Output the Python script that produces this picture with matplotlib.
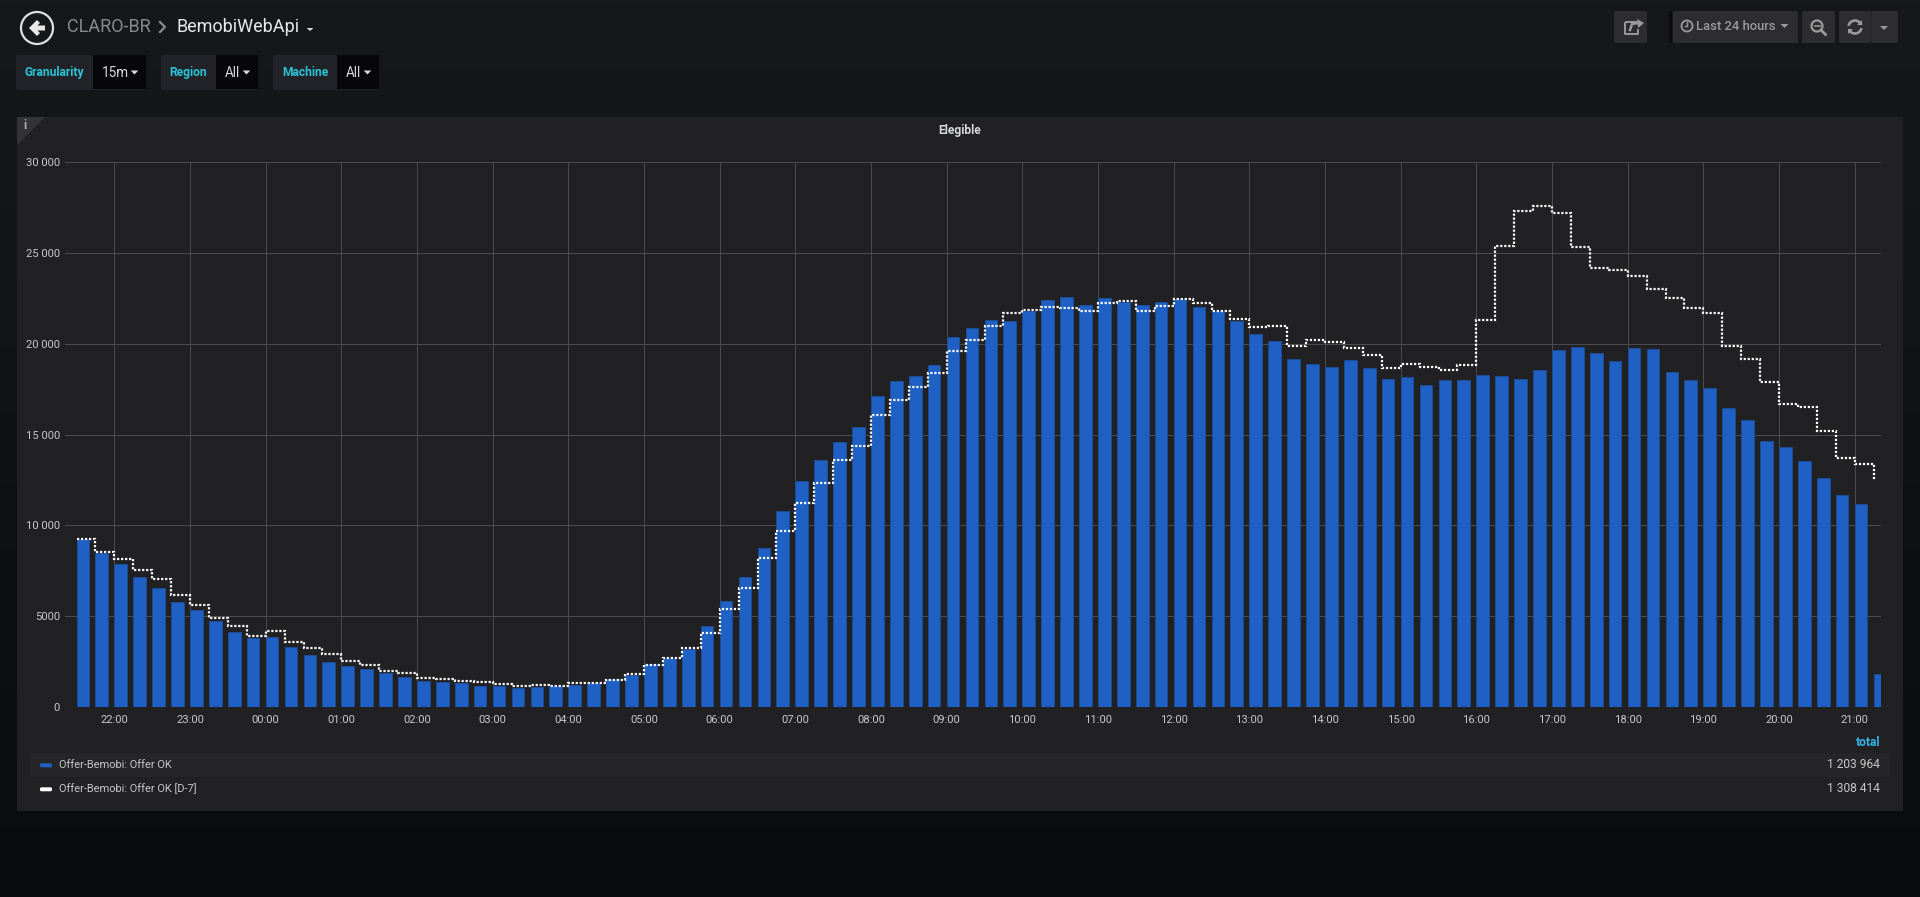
import numpy as np
import pandas as pd
import matplotlib
matplotlib.use("Agg")
import matplotlib.pyplot as plt
import matplotlib.dates as mdates
from matplotlib.patches import Rectangle, Circle, Polygon, FancyBboxPatch, Arc

plt.rcParams['font.family'] = ['Roboto', 'DejaVu Sans']

offer_ok = [9280, 8495, 7870, 7160, 6570, 5800, 5330, 4720, 4155, 3810, 3880, 3330, 2855, 2470, 2250, 2105,
            1870, 1650, 1445, 1390, 1320, 1190, 1190, 1060, 1115, 1150, 1245, 1320, 1540, 1775, 2365, 2700,
            3210, 4460, 5870, 7155, 8750, 10770, 12440, 13600, 14570, 15400, 17120, 17950, 18220, 18830,
            20370, 20880, 21300, 21250, 21780, 22400, 22590, 22130, 22530, 22300, 22110, 22300, 22440, 22020,
            21780, 21250, 20550, 20130, 19175, 18865, 18690, 19080, 18670, 18055, 18150, 17710, 18015, 17980,
            18250, 18210, 18035, 18540, 19640, 19790, 19500, 19060, 19750, 19715, 18460, 17980, 17570, 16470,
            15780, 14660, 14315, 13560, 12595, 11690, 11190, 1850]
offer_ok_d7 = [9230, 8515, 8165, 7545, 7050, 6190, 5600, 4905, 4485, 3900, 4190, 3605, 3280, 2930, 2545, 2325,
               2015, 1905, 1630, 1555, 1445, 1390, 1280, 1170, 1225, 1170, 1320, 1355, 1500, 1850, 2320, 2735,
               3250, 4110, 5430, 6570, 8220, 9690, 11250, 12330, 13580, 14390, 16075, 16900, 17630, 18390,
               19620, 20200, 20960, 21670, 21870, 22020, 21980, 21820, 22220, 22330, 21780, 22090, 22480, 22240,
               21800, 21380, 20940, 20970, 19890, 20215, 20100, 19770, 19350, 18655, 18905, 18690, 18555, 18810,
               21295, 25350, 27295, 27545, 27160, 25310, 24170, 24075, 23745, 22995, 22530, 21970, 21700, 19850,
               19175, 17900, 16705, 16495, 15220, 13715, 13370, 12480]
y_ticks = [0, 5000, 10000, 15000, 20000, 25000, 30000]
y_tick_labels = ["0", "5000", "10 000", "15 000", "20 000", "25 000", "30 000"]
series_names = ["Offer-Bemobi: Offer OK", "Offer-Bemobi: Offer OK [D-7]"]
series_totals = ["1 203 964", "1 308 414"]

W, H = 1920, 897
BLUE = "#1f60c4"
CYAN = "#33b5e5"
TITLE_CYAN = "#2bc4d6"
PANEL = "#212124"


def pt(px):
    return px * 0.72


fig = plt.figure(figsize=(W / 100, H / 100), dpi=100)
bg = fig.add_axes([0, 0, 1, 1], zorder=0)
bg.set_xlim(0, W)
bg.set_ylim(H, 0)
bg.axis("off")

# page gradient
grad = np.linspace(0, 1, 256)[:, None, None]
top = np.array([0x17, 0x18, 0x1a]) / 255
bot = np.array([0x0a, 0x0b, 0x0d]) / 255
bg.imshow(top + (bot - top) * grad, extent=[0, W, H, 0], aspect="auto", zorder=0)
bg.set_xlim(0, W)
bg.set_ylim(H, 0)


def rect(x0, y0, x1, y1, c, z=1):
    bg.add_patch(Rectangle((x0, y0), x1 - x0, y1 - y0, fc=c, ec="none", zorder=z))


def rbox(x0, y0, x1, y1, c, z=1, r=2):
    bg.add_patch(FancyBboxPatch((x0 + r, y0 + r), x1 - x0 - 2 * r, y1 - y0 - 2 * r,
                                boxstyle=f"round,pad={r},rounding_size={r}", fc=c, ec="none", zorder=z))


def caret(cx, cy, w, h, c):
    bg.add_patch(Polygon([(cx - w, cy - h / 2), (cx + w, cy - h / 2), (cx, cy + h / 2)], fc=c, ec="none", zorder=4))


def label(x, y, s, c, size, ha="left", weight="normal"):
    bg.text(x, y + 1.2, s, color=c, fontsize=pt(size), ha=ha, va="center", fontweight=weight, zorder=5)


# panel
rect(17, 117, 1903, 811, PANEL)
bg.add_patch(Polygon([(17, 117), (45, 117), (17, 145)], fc="#343438", ec="none", zorder=2))
label(25, 124, "i", "#b0b0b0", 12, ha="center", weight="bold")
label(959.5, 129.5, "Elegible", "#d8d9da", 12, ha="center", weight="bold")

# header
bg.add_patch(Circle((37, 28), 16, fc="none", ec="#e0e0e0", lw=1.6, zorder=4))
bg.add_patch(Polygon([(29, 28), (37, 20), (40, 23), (37.5, 25.5), (45, 25.5), (45, 30.5), (37.5, 30.5),
                      (40, 33), (37, 36)], fc="#e8e8e8", ec="none", zorder=4))
label(67.5, 26, "CLARO-BR", "#8a8a8a", 18)
bg.plot([160, 165, 160], [22, 27, 32], color="#8a8a8a", lw=1.6, zorder=4)
label(176, 26, "BemobiWebApi", "#e8e8e8", 18)
caret(310, 29.5, 3.5, 3, "#d8d9da")

# variable pills
for x0, x1, x2, name, val in [(16, 93, 146, "Granularity", "15m"),
                              (161, 216, 258, "Region", "All"),
                              (273, 337, 379, "Machine", "All")]:
    rbox(x0, 55, x2, 90, "#212328", z=1)
    rect(x1, 55.5, x2 - 0.5, 89.5, "#070709", z=2)
    label((x0 + x1) / 2, 71.5, name, TITLE_CYAN, 12, ha="center", weight="bold")
    label(x1 + 8.5, 72, val, "#d8d9da", 13.5)
    caret(x2 - 11.5, 72.5, 3.8, 4, "#d8d9da")

# top-right buttons
ICON = "#9a9a9a"
for x0, x1 in [(1614, 1647), (1673, 1798), (1802, 1835), (1839, 1871), (1871, 1898)]:
    rbox(x0, 11, x1, 43, "#2d2d30", z=1)
rect(1669, 11, 1672, 43, "#0c0c0e", z=1)
bg.plot([1871, 1871], [11, 43], color="#262628", lw=0.7, zorder=2)
# share
bg.plot([1636, 1626, 1625, 1625, 1638, 1638], [22, 22, 23, 34, 34, 30], color=ICON, lw=1.4, zorder=4)
bg.plot([1630, 1632, 1638], [30, 24, 23], color=ICON, lw=1.8, zorder=4)
bg.add_patch(Polygon([(1637, 19), (1638, 28), (1644, 23)], fc=ICON, ec="none", zorder=4))
# time picker
bg.add_patch(Circle((1687, 26), 5.5, fc="none", ec=ICON, lw=1.3, zorder=4))
bg.plot([1687, 1687, 1684.5], [22.5, 26.5, 26.5], color=ICON, lw=1, zorder=4)
label(1696.5, 25.5, "Last 24 hours", ICON, 13, weight="medium")
caret(1784.5, 26, 4, 4, ICON)
# zoom out
bg.add_patch(Circle((1817, 26), 5.5, fc="none", ec=ICON, lw=1.6, zorder=4))
bg.plot([1814.5, 1819.5], [26, 26], color=ICON, lw=1.2, zorder=4)
bg.plot([1821, 1825.5], [30, 34.5], color=ICON, lw=2, zorder=4)
# refresh
bg.add_patch(Arc((1855, 27), 13, 13, theta1=190, theta2=340, ec=ICON, lw=1.9, zorder=4))
bg.add_patch(Arc((1855, 27), 13, 13, theta1=10, theta2=160, ec=ICON, lw=1.9, zorder=4))
bg.add_patch(Polygon([(1857, 25), (1862, 25), (1862, 20)], fc=ICON, ec="none", zorder=4))
bg.add_patch(Polygon([(1848, 29), (1853, 29), (1848, 34)], fc=ICON, ec="none", zorder=4))
caret(1884, 28, 4, 4, ICON)

# legend
rect(30, 753, 1890, 777, "#262628")
label(1880, 741.5, "total", CYAN, 12, ha="right", weight="bold")
for yc, name, total, col in zip([764, 788], series_names, series_totals, [BLUE, "#ffffff"]):
    rbox(40, yc - 0.7, 52, yc + 3.3, col, z=3, r=1.5)
    label(59, yc - 0.5, name, "#c8c8c8", 11)
    label(1880, yc - 0.5, total, "#c8c8c8", 12, ha="right")

# chart
L, R, T, B = 65, 1881, 161.8, 707.3
ax = fig.add_axes([L / W, 1 - B / H, (R - L) / W, (B - T) / H], zorder=1)
ax.patch.set_alpha(0)
for s in ax.spines.values():
    s.set_visible(False)

times = pd.date_range("2018-01-01 21:30", periods=len(offer_ok), freq="15min")
x = mdates.date2num(times)
bw = 10 / 1440
ax.bar(x, offer_ok, width=bw, align="edge", color=BLUE, edgecolor="#1d4c98", linewidth=0.7, zorder=2)
ax.step(x, offer_ok_d7, where="post", color="white", lw=pt(2.2), linestyle=(0, (1, 0.82)), zorder=3,
        dash_capstyle="butt", dash_joinstyle="miter")

ax.set_ylim(0, 30000)
ax.set_yticks(y_ticks)
ax.set_yticklabels(y_tick_labels)
start = pd.Timestamp("2018-01-01 21:20:50")
ax.set_xlim(mdates.date2num(start), mdates.date2num(start + pd.Timedelta(hours=24)))
ax.set_xticks(mdates.date2num(pd.date_range("2018-01-01 22:00", periods=24, freq="1h")))
ax.xaxis.set_major_formatter(mdates.DateFormatter("%H:%M"))
ax.grid(True, color="#4b4b4d", lw=pt(1))
ax.set_axisbelow(True)
ax.tick_params(length=0, colors="#c8c8c8", labelsize=pt(11.3))
ax.tick_params(axis="x", pad=pt(8))
ax.tick_params(axis="y", pad=pt(5))

fig.savefig("out.png", dpi=100, facecolor="#111214")
